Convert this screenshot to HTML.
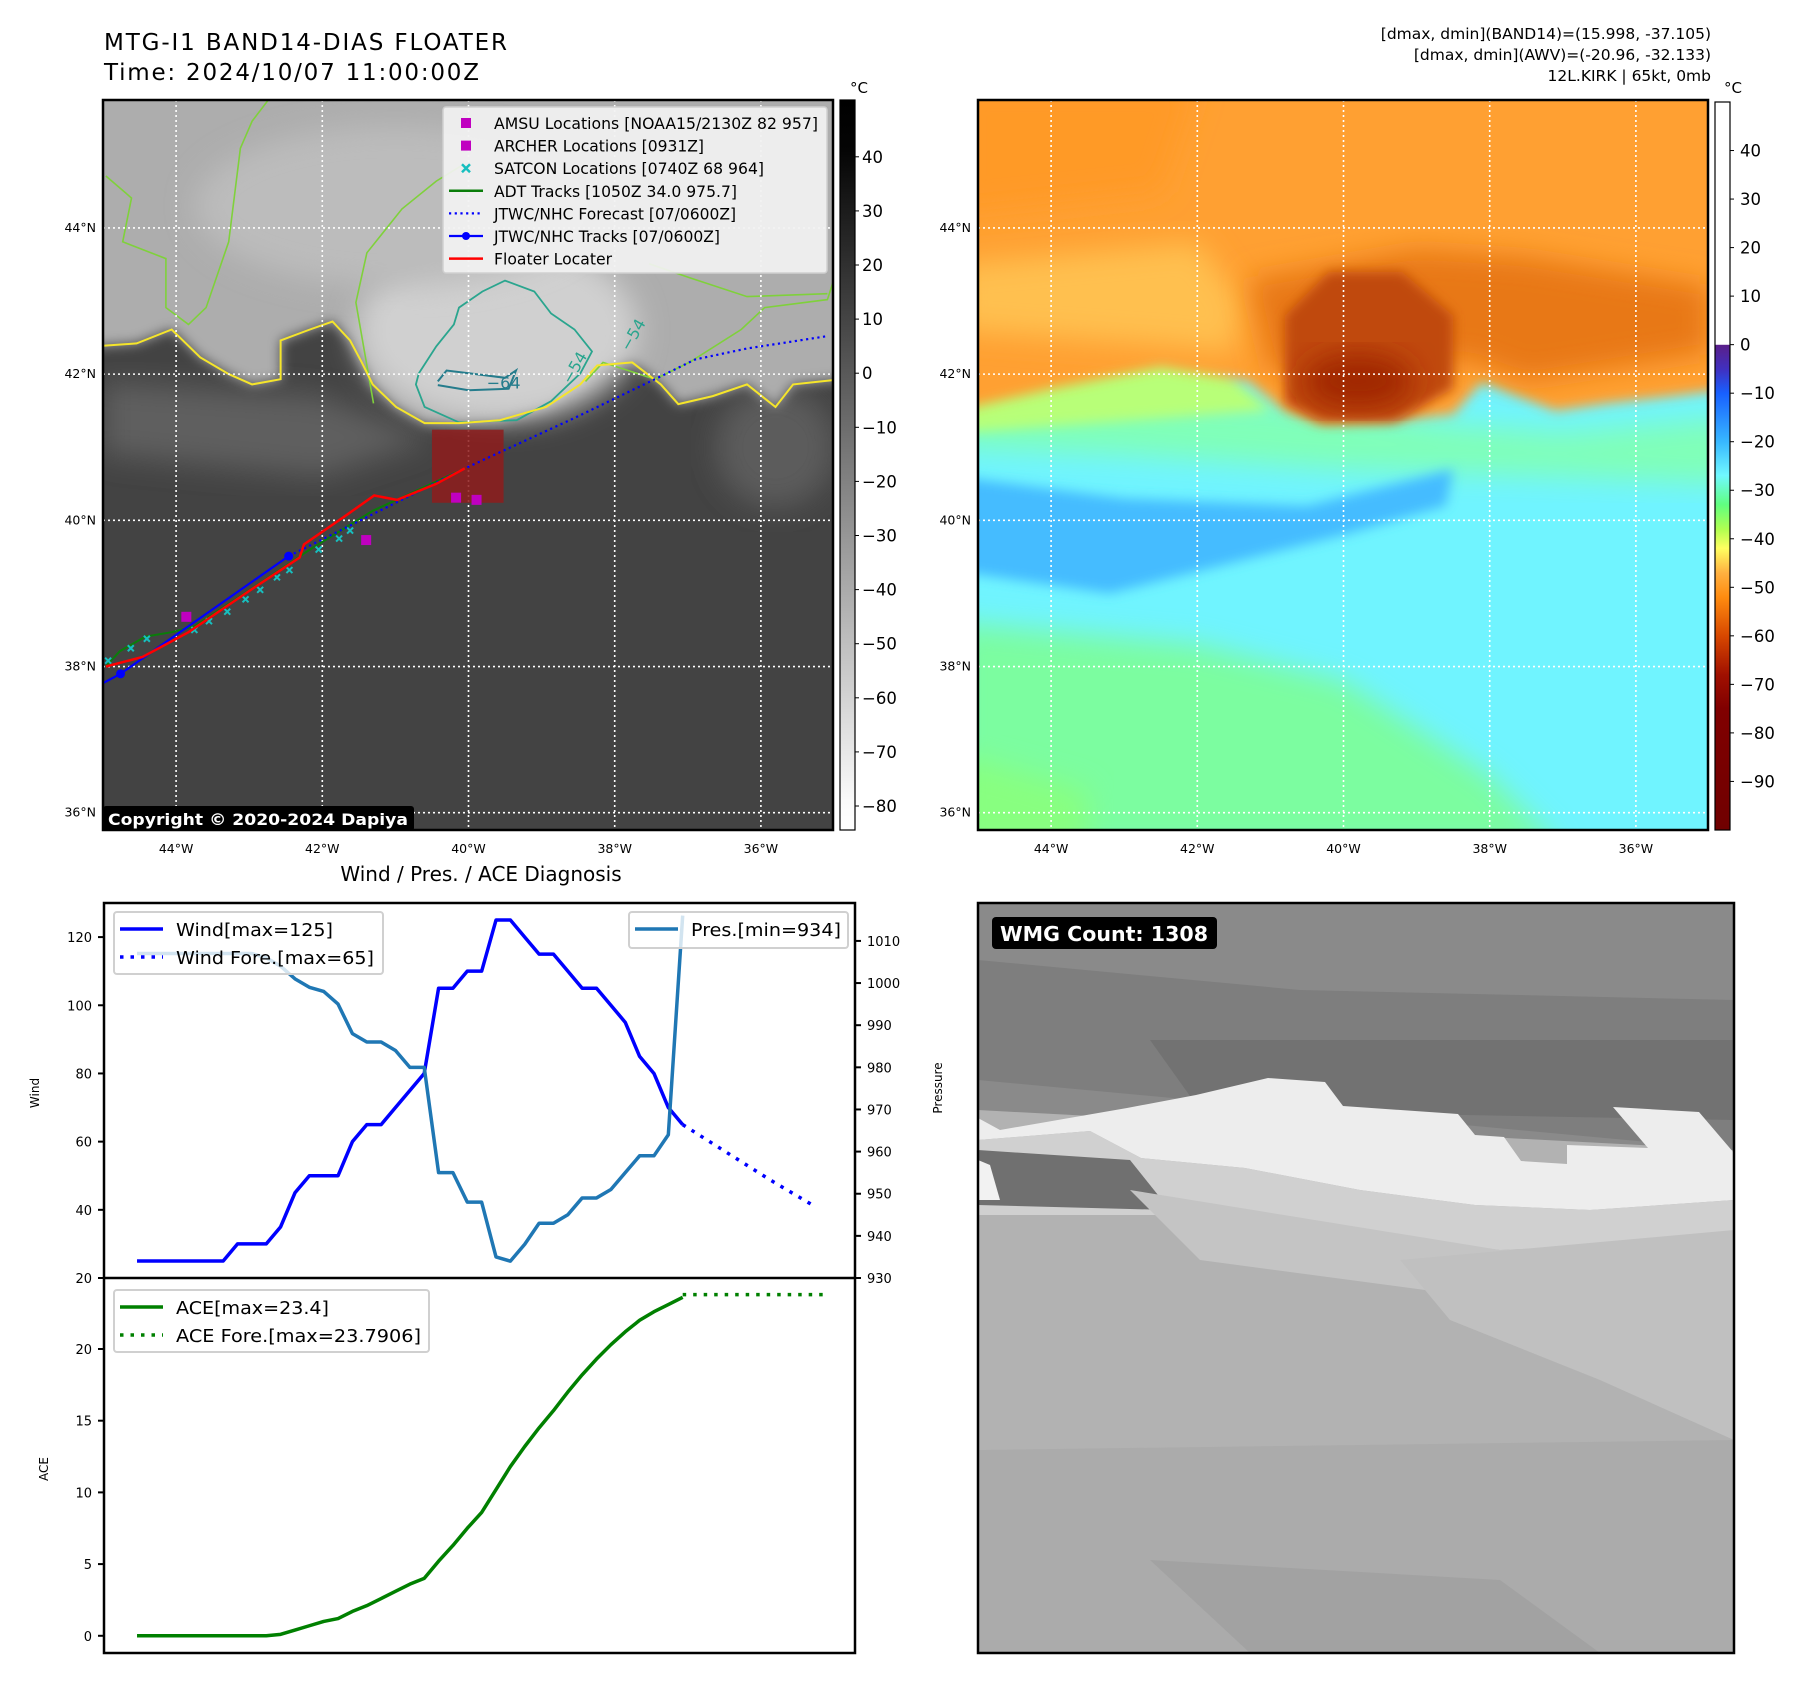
<!DOCTYPE html>
<html><head><meta charset="utf-8"><style>
html,body{margin:0;padding:0;background:#fff;width:1797px;height:1690px;overflow:hidden}
svg{display:block;font-family:"DejaVu Sans","Liberation Sans",sans-serif}
</style></head><body>
<svg id="fig" xmlns="http://www.w3.org/2000/svg" width="1797" height="1690" viewBox="0 0 1797 1690">
<defs>
<filter id="blur6" x="-10%" y="-10%" width="120%" height="120%"><feGaussianBlur stdDeviation="6"/></filter>
<filter id="blur14" x="-20%" y="-20%" width="140%" height="140%"><feGaussianBlur stdDeviation="14"/></filter>
<clipPath id="clipL"><rect x="103" y="100" width="730" height="730"/></clipPath>
<clipPath id="clipR"><rect x="978" y="100" width="730" height="730"/></clipPath>
<clipPath id="clipW"><rect x="104" y="903" width="751" height="375"/></clipPath>
<clipPath id="clipA"><rect x="104" y="1278" width="751" height="375"/></clipPath>
<clipPath id="clipG"><rect x="978" y="903" width="756" height="750"/></clipPath>
<linearGradient id="cbGray" x1="0" y1="0" x2="0" y2="1">
<stop offset="0" stop-color="#000"/><stop offset="0.07" stop-color="#050505"/><stop offset="0.96" stop-color="#fafafa"/><stop offset="1" stop-color="#fff"/></linearGradient>
<linearGradient id="cbCol" x1="0" y1="0" x2="0" y2="1">
<stop offset="0" stop-color="#fff"/><stop offset="0.333" stop-color="#fff"/><stop offset="0.334" stop-color="#5a1f8a"/><stop offset="0.367" stop-color="#4030c0"/><stop offset="0.4" stop-color="#1860ff"/><stop offset="0.467" stop-color="#38b8ff"/><stop offset="0.513" stop-color="#70f8ff"/><stop offset="0.553" stop-color="#60ff80"/><stop offset="0.587" stop-color="#b0ff50"/><stop offset="0.613" stop-color="#ffff60"/><stop offset="0.647" stop-color="#ffb040"/><stop offset="0.68" stop-color="#ff8c10"/><stop offset="0.733" stop-color="#d84800"/><stop offset="0.787" stop-color="#a01000"/><stop offset="0.833" stop-color="#800000"/><stop offset="1" stop-color="#700000"/></linearGradient>
</defs>

<text x="104" y="50" font-size="23" textLength="403">MTG-I1 BAND14-DIAS FLOATER</text>
<text x="104" y="80" font-size="23" textLength="375">Time: 2024/10/07 11:00:00Z</text>
<text x="1711" y="39" font-size="15.5" text-anchor="end">[dmax, dmin](BAND14)=(15.998, -37.105)</text>
<text x="1711" y="60" font-size="15.5" text-anchor="end">[dmax, dmin](AWV)=(-20.96, -32.133)</text>
<text x="1711" y="81" font-size="15.5" text-anchor="end">12L.KIRK | 65kt, 0mb</text>

<g id="leftMap"></g>
<g id="rightMap"></g>
<g id="cbars"></g>
<g id="wmg"></g>
<g id="chart"></g>
</svg>
<script>
const NS="http://www.w3.org/2000/svg";
function mk(parent,tag,attrs,txt){const e=document.createElementNS(NS,tag);for(const k in attrs)e.setAttribute(k,attrs[k]);if(txt!==undefined)e.textContent=txt;parent.appendChild(e);return e;}

/* ---------- chart data ---------- */
const windIdx=[0,1,2,3,4,5,6,7,8,9,10,11,12,13,14,15,16,17,18,19,20,21,22,23,24,25,26,27,28,29,30,31,32,33,34,35,36,37,38];
const windVals=[25,25,25,25,25,25,25,30,30,30,35,45,50,50,50,60,65,65,70,75,80,105,105,110,110,125,125,120,115,115,110,105,105,100,95,85,80,70,65];
const presVals=[1007,1007,1007,1007,1007,1007,1007,1007,1007,1006,1004,1001,999,998,995,988,986,986,984,980,980,955,955,948,948,935,934,938,943,943,945,949,949,951,955,959,959,964,1016];
const aceVals=[0,0,0,0,0,0,0,0,0,0,0.1,0.4,0.7,1.0,1.2,1.7,2.1,2.6,3.1,3.6,4.0,5.2,6.3,7.5,8.6,10.2,11.8,13.2,14.5,15.7,17.0,18.2,19.3,20.3,21.2,22.0,22.6,23.1,23.6];
const foreIdx=[38,41,44,47.2];
const foreWind=[65,57,49,41];
const aceForeIdx=[38,48];
const aceForeVals=[23.79,23.79];
const windTicks=[20,40,60,80,100,120];
const presTicks=[930,940,950,960,970,980,990,1000,1010];
const aceTicks=[0,5,10,15,20];

/* ---------- map data (lon, lat) ---------- */
const redTrack=[[-44.96,38.0],[-44.46,38.13],[-43.83,38.47],[-42.96,39.06],[-42.31,39.49],[-42.25,39.67],[-41.70,40.05],[-41.29,40.34],[-40.98,40.28],[-40.44,40.50],[-40.05,40.71]];
const jtwcTrack=[[-45.1,37.72],[-44.76,37.9],[-42.46,39.51]];
const jtwcDots=[[-44.76,37.9],[-42.46,39.51]];
const jtwcFore=[[-42.46,39.51],[-40.05,40.71],[-38.55,41.4],[-37.45,41.93],[-36.9,42.2],[-36.19,42.35],[-35.09,42.52]];
const adtTrack=[[-44.96,38.0],[-44.77,38.21],[-44.42,38.41],[-44.06,38.47],[-43.75,38.55],[-42.96,39.07],[-42.17,39.6],[-41.31,40.13],[-40.05,40.71]];
const satconPts=[[-44.93,38.08],[-44.62,38.25],[-44.40,38.38],[-43.75,38.5],[-43.55,38.62],[-43.30,38.75],[-43.05,38.92],[-42.85,39.05],[-42.62,39.22],[-42.45,39.32],[-42.05,39.6],[-41.77,39.75],[-41.62,39.86]];
const amsuPts=[[-43.86,38.68],[-41.4,39.73],[-40.17,40.31],[-39.89,40.28]];
const floaterBox=[-40.5,41.24,-39.52,40.24];
const yellowContour=[[-45.1,42.38],[-44.54,42.42],[-44.06,42.61],[-43.67,42.23],[-43.28,42.0],[-42.96,41.86],[-42.57,41.93],[-42.57,42.46],[-42.17,42.61],[-41.86,42.72],[-41.62,42.46],[-41.46,42.16],[-41.31,41.86],[-40.99,41.55],[-40.6,41.33],[-40.13,41.33],[-39.57,41.37],[-38.94,41.55],[-38.47,41.86],[-38.24,42.12],[-37.76,42.16],[-37.37,41.86],[-37.13,41.59],[-36.66,41.7],[-36.19,41.86],[-35.8,41.55],[-35.56,41.86],[-34.9,41.93]];
const tealContour=[[-40.68,42.01],[-40.44,42.38],[-40.2,42.68],[-40.13,42.91],[-39.81,43.13],[-39.5,43.28],[-39.1,43.13],[-38.87,42.83],[-38.55,42.61],[-38.31,42.31],[-38.47,42.01],[-38.87,41.63],[-39.34,41.37],[-40.13,41.34],[-40.6,41.55],[-40.72,41.86],[-40.68,42.01]];
const tealInner=[[-40.42,41.9],[-40.3,42.05],[-39.9,42.0],[-39.5,41.95],[-39.35,42.05],[-39.45,41.8],[-40.0,41.78],[-40.42,41.85]];
const greenContourA=[[-44.96,44.71],[-44.61,44.41],[-44.73,43.81],[-44.14,43.58],[-44.14,42.91],[-43.83,42.68],[-43.59,42.91],[-43.28,43.81],[-43.12,45.09],[-42.96,45.46],[-42.7,45.8]];
const greenContourB=[[-41.3,41.6],[-41.54,42.98],[-41.39,43.66],[-40.91,44.26],[-40.44,44.64],[-40.1,44.85]];
const greenContourC=[[-38.4,41.9],[-38.16,42.16],[-37.45,41.93],[-36.98,42.16],[-36.27,42.61],[-35.95,42.91],[-35.09,43.02],[-35.0,43.3]];
const greenContourD=[[-37.53,43.51],[-36.98,43.32],[-36.19,43.06],[-35.09,43.1]];

const LON0=-45,LAT1=45.75,PPD=73.1,MAPY=100;
function lonX(lon,ox){return ox+(lon-LON0)*PPD;}
function latY(lat){return MAPY+(LAT1-lat)*PPD;}
function ptsStr(arr,ox){return arr.map(p=>lonX(p[0],ox).toFixed(1)+","+latY(p[1]).toFixed(1)).join(" ");}

(function(){
const g=document.getElementById('leftMap');
const c=mk(g,'g',{'clip-path':'url(#clipL)'});
mk(c,'rect',{x:103,y:100,width:730,height:730,fill:'#434343'});
const s1=mk(c,'polygon',{points:ptsStr([[-45,41.9],[-42,41.7],[-40.5,41.1],[-42,40.6],[-45,40.9]],103),fill:'#5e5e5e',filter:'url(#blur14)'});


const s2=mk(c,'ellipse',{cx:lonX(-35.8,103),cy:latY(41.0),rx:60,ry:60,fill:'#5c5c5c',filter:'url(#blur14)'});


const cloud=[[-45.2,46],[-45.2,42.3]].concat(yellowContour).concat([[-34.8,41.9],[-34.8,46]]);
const cl=mk(c,'polygon',{points:ptsStr(cloud,103),fill:'#adadad',filter:'url(#blur6)'});


mk(c,'ellipse',{cx:lonX(-39.6,103),cy:latY(42.6),rx:140,ry:90,fill:'#d0d0d0',filter:'url(#blur14)'});
mk(c,'ellipse',{cx:lonX(-41.0,103),cy:latY(44.3),rx:200,ry:80,fill:'#bcbcbc',filter:'url(#blur14)'});
[[greenContourA,'green-contour-a'],[greenContourB,'green-contour-b'],[greenContourC,'green-contour-c'],[greenContourD,'green-contour-d']].forEach(a=>{
 const e=mk(c,'polyline',{points:ptsStr(a[0],103),fill:'none',stroke:'#7fd13b','stroke-width':1.6});
 
 
});
const tc=mk(c,'polyline',{points:ptsStr(tealContour,103),fill:'none',stroke:'#2aa58e','stroke-width':1.8});


const ti=mk(c,'polyline',{points:ptsStr(tealInner,103),fill:'none',stroke:'#257c8c','stroke-width':2});


mk(c,'text',{x:lonX(-39.75,103),y:latY(41.8),'font-size':16,fill:'#257c8c'},'−64');
mk(c,'text',{x:lonX(-38.6,103),y:latY(41.85),'font-size':16,fill:'#2aa58e',transform:`rotate(-60 ${lonX(-38.6,103)} ${latY(41.85)})`},'−54');
mk(c,'text',{x:lonX(-37.8,103),y:latY(42.3),'font-size':16,fill:'#2aa58e',transform:`rotate(-60 ${lonX(-37.8,103)} ${latY(42.3)})`},'−54');
const yc=mk(c,'polyline',{points:ptsStr(yellowContour,103),fill:'none',stroke:'#f5e52a','stroke-width':2});


drawGrid(c,103);
const fb=mk(c,'rect',{x:lonX(floaterBox[0],103),y:latY(floaterBox[1]),width:(floaterBox[2]-floaterBox[0])*PPD,height:(floaterBox[1]-floaterBox[3])*PPD,fill:'#8e1c1c','fill-opacity':0.85});


const adt=mk(c,'polyline',{points:ptsStr(adtTrack,103),fill:'none',stroke:'#0a7d0a','stroke-width':2});


satconPts.forEach(p=>{const x=lonX(p[0],103),y=latY(p[1]);
 const e=mk(c,'path',{d:`M${x-3},${y-3}L${x+3},${y+3}M${x-3},${y+3}L${x+3},${y-3}`,stroke:'#17bfbf','stroke-width':2});
 
 
});
const jf=mk(c,'polyline',{points:ptsStr(jtwcFore,103),fill:'none',stroke:'#0000ff','stroke-width':2.2,'stroke-dasharray':'2.2 3.5'});


const jt=mk(c,'polyline',{points:ptsStr(jtwcTrack,103),fill:'none',stroke:'#0000ff','stroke-width':2.2});


jtwcDots.forEach(p=>{const e=mk(c,'circle',{cx:lonX(p[0],103),cy:latY(p[1]),r:4.5,fill:'#0000ff'});
 
 });
const rt=mk(c,'polyline',{points:ptsStr(redTrack,103),fill:'none',stroke:'#ff0000','stroke-width':2.5});


amsuPts.forEach(p=>{const e=mk(c,'rect',{x:lonX(p[0],103)-5,y:latY(p[1])-5,width:10,height:10,fill:'#c000c0'});
 
 });
const lg=mk(g,'g',{});


mk(lg,'rect',{x:443,y:107,width:384,height:166,fill:'#f2f2f2','fill-opacity':0.92,stroke:'#d0d0d0','stroke-width':1.5,rx:3});
const L=[['sq','#c000c0','AMSU Locations [NOAA15/2130Z 82 957]',324],['sq','#c000c0','ARCHER Locations [0931Z]',210],['x','#17bfbf','SATCON Locations [0740Z 68 964]',270],['line','#0a7d0a','ADT Tracks [1050Z 34.0 975.7]',243],['dot','#0000ff','JTWC/NHC Forecast [07/0600Z]',242],['ld','#0000ff','JTWC/NHC Tracks [07/0600Z]',226],['line','#ff0000','Floater Locater',118]];
L.forEach((e,i)=>{const y=123+i*22.6;
 if(e[0]==='sq')mk(lg,'rect',{x:461,y:y-5,width:10,height:10,fill:e[1]});
 if(e[0]==='x')mk(lg,'path',{d:`M462,${y-4}L470,${y+4}M462,${y+4}L470,${y-4}`,stroke:e[1],'stroke-width':2.5});
 if(e[0]==='line')mk(lg,'line',{x1:449,x2:483,y1:y,y2:y,stroke:e[1],'stroke-width':2.5});
 if(e[0]==='dot')mk(lg,'line',{x1:449,x2:483,y1:y,y2:y,stroke:e[1],'stroke-width':2.2,'stroke-dasharray':'2.2 3.5'});
 if(e[0]==='ld'){mk(lg,'line',{x1:449,x2:483,y1:y,y2:y,stroke:e[1],'stroke-width':2.2});mk(lg,'circle',{cx:466,cy:y,r:4,fill:e[1]});}
 const t=mk(lg,'text',{x:494,y:y+6,'font-size':16,textLength:e[3],lengthAdjust:'spacingAndGlyphs'},e[2]);
 
 
});
const cp=mk(g,'rect',{x:103,y:806,width:311,height:25,fill:'#000',rx:3});


mk(g,'text',{x:108,y:825,'font-size':16,'font-weight':'bold',fill:'#fff',textLength:300,lengthAdjust:'spacingAndGlyphs'},'Copyright © 2020-2024 Dapiya');
mk(g,'rect',{x:103,y:100,width:730,height:730,fill:'none',stroke:'#000','stroke-width':2.5});
drawMapLabels(g,103);
})();

function drawGrid(c,ox){
 [-44,-42,-40,-38,-36].forEach(l=>mk(c,'line',{x1:lonX(l,ox),x2:lonX(l,ox),y1:100,y2:830,stroke:'#fff','stroke-width':1.6,'stroke-dasharray':'2 3'}));
 [36,38,40,42,44].forEach(l=>mk(c,'line',{x1:ox,x2:ox+730,y1:latY(l),y2:latY(l),stroke:'#fff','stroke-width':1.6,'stroke-dasharray':'2 3'}));
}
function drawMapLabels(g,ox){
 [-44,-42,-40,-38,-36].forEach(l=>{const t=mk(g,'text',{x:lonX(l,ox),y:853,'font-size':12.5,'text-anchor':'middle'},(-l)+'°W');
  
  });
 [36,38,40,42,44].forEach(l=>{const t=mk(g,'text',{x:ox-7,y:latY(l)+4,'font-size':12.5,'text-anchor':'end'},l+'°N');
  
  });
}

(function(){
const g=document.getElementById('rightMap');const O=978;
const c=mk(g,'g',{'clip-path':'url(#clipR)'});
mk(c,'rect',{x:O,y:100,width:730,height:730,fill:'#70f4ff'});
const P=(arr,fill,blur,name)=>{const e=mk(c,'polygon',{points:ptsStr(arr,O),fill:fill,filter:blur?`url(#${blur})`:''});
 
 return e;};
P([[-45.3,38.6],[-42,38.3],[-40,37.8],[-38,36.5],[-37,35.5],[-45.3,35.5]],'#7cfda0','blur14','green-south');
P([[-45.3,36.8],[-43.5,36.3],[-43.5,35.5],[-45.3,35.5]],'#88ff80','blur14','green-corner');
P([[-45.3,41.8],[-41,41.6],[-38.5,41.3],[-37,41.2],[-34.7,41.4],[-34.7,40.5],[-37,40.6],[-40,40.7],[-43,40.9],[-45.3,41.0]],'#80ffb8','blur14','green-band');
P([[-45.3,40.6],[-43,40.3],[-40.5,40.2],[-38.5,40.7],[-38.6,40.2],[-40,39.8],[-42,39.3],[-43.2,39.0],[-45.3,39.3]],'#44bcff','blur6','blue-band');
P([[-45.3,42.5],[-43,42.3],[-41.8,42.2],[-41,41.5],[-45.3,41.2]],'#b8ff78','blur6','yellow-green-band');
const orange=[[-45.3,46],[-45.3,41.5],[-44,41.8],[-42.5,42.1],[-41.3,41.9],[-40.8,41.5],[-40.3,41.32],[-39.5,41.35],[-38.5,41.45],[-38.1,41.9],[-37.6,41.7],[-37.1,41.5],[-36.4,41.6],[-35.5,41.7],[-34.7,41.8],[-34.7,46]];
P(orange,'#ffa030','blur6','orange-shield');
P([[-45.3,42.6],[-42.5,42.4],[-41.5,42.3],[-41.4,43],[-42,43.8],[-45.3,43.5]],'#ffc050','blur14','yellow-edge');
P([[-41.3,43.3],[-39,43.7],[-37.5,43.6],[-35,43.2],[-35,42.3],[-37.5,41.9],[-38.3,42.2],[-41,42.0]],'#e87818','blur14','dark-orange-region');
P([[-40.8,42.8],[-40.2,43.4],[-39.2,43.4],[-38.5,42.8],[-38.5,41.8],[-39.3,41.35],[-40.3,41.35],[-40.8,41.6]],'#c04a08','blur6','cold-core');
const core=mk(c,'ellipse',{cx:lonX(-39.8,O),cy:latY(41.9),rx:55,ry:28,fill:'#a02800',filter:'url(#blur14)'});


P([[-45.3,46],[-42,46],[-42.5,44.5],[-45.3,44.2]],'#ff9a25','blur14','orange-nw');
drawGrid(c,O);
mk(g,'rect',{x:O,y:100,width:730,height:730,fill:'none',stroke:'#000','stroke-width':2.5});
drawMapLabels(g,O);
})();

const grayCbTicks=[40,30,20,10,0,-10,-20,-30,-40,-50,-60,-70,-80];
const colCbTicks=[40,30,20,10,0,-10,-20,-30,-40,-50,-60,-70,-80,-90];
(function(){
const g=document.getElementById('cbars');
const b1=mk(g,'rect',{x:840,y:100,width:15,height:730,fill:'url(#cbGray)',stroke:'#000','stroke-width':1.2});


const gy=v=>100+(50.5-v)*5.41;
grayCbTicks.forEach(v=>{mk(g,'line',{x1:855,x2:859,y1:gy(v),y2:gy(v),stroke:'#000'});
 const t=mk(g,'text',{x:862,y:gy(v)+6,'font-size':16.5},v<0?'−'+(-v):String(v));
 
 });
mk(g,'text',{x:850,y:93,'font-size':15},'°C');
const b2=mk(g,'rect',{x:1715,y:102,width:15,height:728,fill:'url(#cbCol)',stroke:'#000','stroke-width':1.2});


const cy=v=>102+(50-v)*4.853;
colCbTicks.forEach(v=>{mk(g,'line',{x1:1730,x2:1734,y1:cy(v),y2:cy(v),stroke:'#000'});
 const t=mk(g,'text',{x:1740,y:cy(v)+6,'font-size':16.5},v<0?'−'+(-v):String(v));
 
 });
mk(g,'text',{x:1724,y:93,'font-size':15},'°C');
})();

(function(){
const g=document.getElementById('wmg');
const c=mk(g,'g',{'clip-path':'url(#clipG)'});
mk(c,'rect',{x:978,y:903,width:756,height:750,fill:'#b2b2b2'});
const P=(pts,fill,name)=>{const e=mk(c,'polygon',{points:pts,fill:fill});
 
 };
P('978,903 1734,903 1734,1150 978,1110','#8a8a8a','wmg-top');
P('978,960 1300,990 1734,1000 1734,1150 978,1080','#7e7e7e','wmg-mid-dark');
P('1150,1040 1734,1040 1734,1120 1200,1110','#727272','wmg-dark-band');
P('978,1118 1000,1130 1127,1108 1196,1095 1268,1078 1325,1082 1343,1106 1458,1114 1475,1135 1504,1137 1521,1161 1567,1164 1567,1145 1648,1148 1613,1107 1699,1112 1734,1153 1734,1200 1590,1210 1475,1205 1360,1190 1245,1168 1141,1158 1090,1131 978,1140','#ededed','wmg-white-band');
P('978,1140 1090,1131 1141,1158 1245,1168 1360,1190 1475,1205 1590,1210 1734,1200 1734,1240 1500,1250 1200,1215 978,1215','#d0d0d0','wmg-light-band');
P('978,1150 1130,1160 1170,1210 978,1205','#707070','wmg-west-dark');
P('978,1160 990,1165 1000,1200 978,1200','#f2f2f2','wmg-west-white');
P('1130,1190 1200,1260 1500,1300 1734,1320 1734,1240 1500,1250','#c4c4c4','wmg-gray-band');
P('1400,1260 1734,1230 1734,1440 1600,1380 1450,1320','#c0c0c0','wmg-se-light');
P('978,1450 1734,1440 1734,1653 978,1653','#ababab','wmg-bottom');
P('1150,1560 1500,1580 1600,1653 1250,1653','#a2a2a2','wmg-bottom-dark');
mk(g,'rect',{x:978,y:903,width:756,height:750,fill:'none',stroke:'#000','stroke-width':2.5});
const b=mk(g,'rect',{x:992,y:917,width:225,height:32,rx:4,fill:'#000'});


mk(g,'text',{x:1000,y:941,'font-size':20,'font-weight':'bold',fill:'#fff',textLength:208,lengthAdjust:'spacingAndGlyphs'},'WMG Count: 1308');
})();

(function(){
const g=document.getElementById('chart');
const X0=104,X1=855,IX0=-2.3,IX1=50;
const xS=i=>X0+(i-IX0)*(X1-X0)/(IX1-IX0);
const yW=v=>1278-(v-20)*(375/110);
const yP=p=>1278-(p-930)*(375/89);
const yA=a=>1653-(a+1.2)*(375/26.15);
mk(g,'text',{x:481,y:881,'font-size':20,'text-anchor':'middle'},'Wind / Pres. / ACE Diagnosis');
const cw=mk(g,'g',{'clip-path':'url(#clipW)'});
const wl=mk(cw,'polyline',{points:windIdx.map((i,k)=>xS(i)+','+yW(windVals[k])).join(' '),fill:'none',stroke:'#0000ff','stroke-width':3.5,'stroke-linejoin':'round'});


const wf=mk(cw,'polyline',{points:foreIdx.map((i,k)=>xS(i)+','+yW(foreWind[k])).join(' '),fill:'none',stroke:'#0000ff','stroke-width':3.5,'stroke-dasharray':'3.5 7'});


const pl=mk(cw,'polyline',{points:windIdx.map((i,k)=>xS(i)+','+yP(presVals[k])).join(' '),fill:'none',stroke:'#1f77b4','stroke-width':3.5,'stroke-linejoin':'round'});


const ca=mk(g,'g',{'clip-path':'url(#clipA)'});
const al=mk(ca,'polyline',{points:windIdx.map((i,k)=>xS(i)+','+yA(aceVals[k])).join(' '),fill:'none',stroke:'#008000','stroke-width':3.5,'stroke-linejoin':'round'});


const af=mk(ca,'polyline',{points:aceForeIdx.map((i,k)=>xS(i)+','+yA(aceForeVals[k])).join(' '),fill:'none',stroke:'#008000','stroke-width':3.5,'stroke-dasharray':'3.5 7'});


mk(g,'rect',{x:X0,y:903,width:X1-X0,height:750,fill:'none',stroke:'#000','stroke-width':2.5});
mk(g,'line',{x1:X0,x2:X1,y1:1278,y2:1278,stroke:'#000','stroke-width':2.5});
windTicks.forEach(v=>{mk(g,'line',{x1:X0-6,x2:X0,y1:yW(v),y2:yW(v),stroke:'#000','stroke-width':2});
 const t=mk(g,'text',{x:X0-12,y:yW(v)+5,'font-size':13,'text-anchor':'end'},String(v));
 
 });
presTicks.forEach(v=>{mk(g,'line',{x1:X1,x2:X1+6,y1:yP(v),y2:yP(v),stroke:'#000','stroke-width':2});
 const t=mk(g,'text',{x:X1+12,y:yP(v)+5,'font-size':13},String(v));
 
 });
aceTicks.forEach(v=>{mk(g,'line',{x1:X0-6,x2:X0,y1:yA(v),y2:yA(v),stroke:'#000','stroke-width':2});
 const t=mk(g,'text',{x:X0-12,y:yA(v)+5,'font-size':13,'text-anchor':'end'},String(v));
 
 });
mk(g,'text',{x:35,y:1097,'font-size':12,'text-anchor':'middle',transform:'rotate(-90 35 1093)'},'Wind');
mk(g,'text',{x:44,y:1473,'font-size':12,'text-anchor':'middle',transform:'rotate(-90 44 1469)'},'ACE');
mk(g,'text',{x:942,y:1096,'font-size':12,'text-anchor':'middle',transform:'rotate(-90 938 1092)'},'Pressure');
function legend(x,y,w,h,items,name){const lg=mk(g,'g',{});
 
 
 mk(lg,'rect',{x:x,y:y,width:w,height:h,rx:3,fill:'#fff','fill-opacity':0.8,stroke:'#d0d0d0','stroke-width':2});
 items.forEach((it,k)=>{const yy=y+17+k*28;
  mk(lg,'line',{x1:x+6,x2:x+49,y1:yy,y2:yy,stroke:it[0],'stroke-width':3.5,'stroke-dasharray':it[1]?'3.5 7':''});
  mk(lg,'text',{x:x+62,y:yy+7,'font-size':18,textLength:it[3],lengthAdjust:'spacingAndGlyphs'},it[2]);});}
legend(114,912,269,62,[['#0000ff',0,'Wind[max=125]',157],['#0000ff',1,'Wind Fore.[max=65]',198]],'wind-legend');
legend(629,912,219,36,[['#1f77b4',0,'Pres.[min=934]',150]],'pressure-legend');
legend(114,1290,315,62,[['#008000',0,'ACE[max=23.4]',153],['#008000',1,'ACE Fore.[max=23.7906]',245]],'ace-legend');
})();
</script>
</body></html>
